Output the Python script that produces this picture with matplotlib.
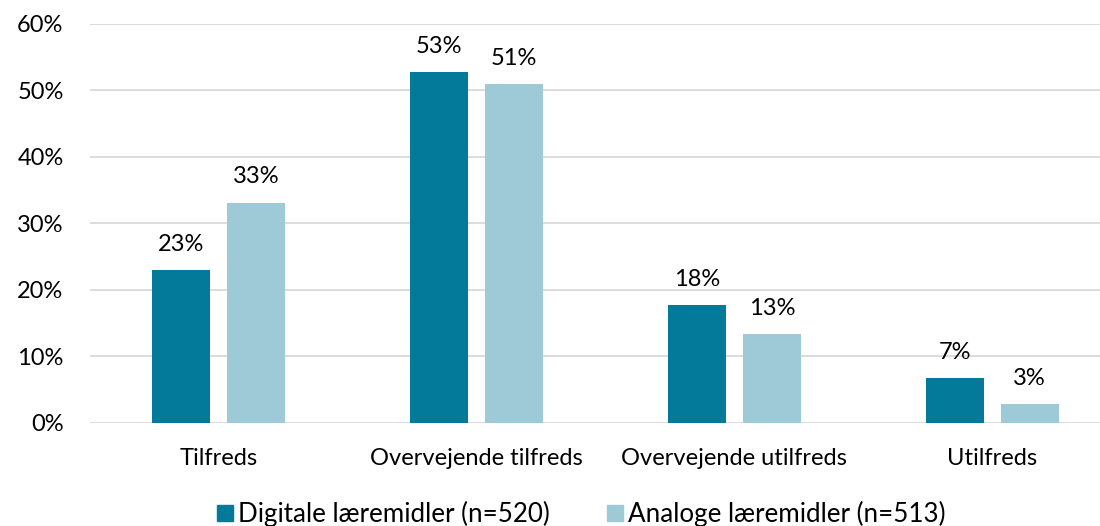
import matplotlib
matplotlib.use("Agg")
import matplotlib.pyplot as plt
from matplotlib.lines import Line2D
import numpy as np

categories = ["Tilfreds", "Overvejende tilfreds", "Overvejende utilfreds", "Utilfreds"]
series_names = ["Digitale læremidler (n=520)", "Analoge læremidler (n=513)"]
digital = [22.9, 52.7, 17.7, 6.7]
analog = [33.1, 50.9, 13.3, 2.8]
digital_labels = ["23%", "53%", "18%", "7%"]
analog_labels = ["33%", "51%", "13%", "3%"]
yticks = [0, 10, 20, 30, 40, 50, 60]
ytick_labels = ["0%", "10%", "20%", "30%", "40%", "50%", "60%"]

plt.rcParams['font.family'] = ['Lato', 'DejaVu Sans']

W, H = 1100, 526
fig = plt.figure(figsize=(W / 100, H / 100), dpi=100)
left, right = 90 / W, 1121 / W
top, bottom = 23.7 / H, 422.7 / H
ax = fig.add_axes([left, 1 - bottom, right - left, bottom - top])

c_dark = "#037A99"
c_light = "#9DCAD6"
x = np.arange(len(categories))
bw = 0.225
off = 0.1455
b1 = ax.bar(x - off, digital, bw, color=c_dark, zorder=3)
b2 = ax.bar(x + off, analog, bw, color=c_light, zorder=3)

for bars, labels in ((b1, digital_labels), (b2, analog_labels)):
    for b, lab in zip(bars, labels):
        ax.annotate(lab, (b.get_x() + b.get_width() / 2, b.get_height()),
                    xytext=(0, 11), textcoords="offset points",
                    ha="center", va="bottom", fontsize=17, color="#000000")

ax.set_xlim(-0.5, 3.5)
ax.set_ylim(0, 60)
ax.set_yticks(yticks)
ax.set_yticklabels(ytick_labels, fontsize=17)
ax.set_xticks(x)
ax.set_xticklabels(categories, fontsize=17)
ax.tick_params(axis="y", length=0, pad=19)
ax.tick_params(axis="x", length=0, pad=18)
ax.yaxis.grid(True, color="#D9D9D9", linewidth=1.3, zorder=0)
ax.set_axisbelow(True)
for s in ax.spines.values():
    s.set_visible(False)

handles = [Line2D([], [], marker="s", linestyle="", markersize=12, color=c_dark),
           Line2D([], [], marker="s", linestyle="", markersize=12, color=c_light)]
fig.legend(handles, series_names, loc="center", bbox_to_anchor=(580 / W, 1 - 514 / H),
           ncol=2, frameon=False, fontsize=18.7, handlelength=0.8, handletextpad=0.1,
           columnspacing=2.1)

fig.savefig("out.png", dpi=100)
